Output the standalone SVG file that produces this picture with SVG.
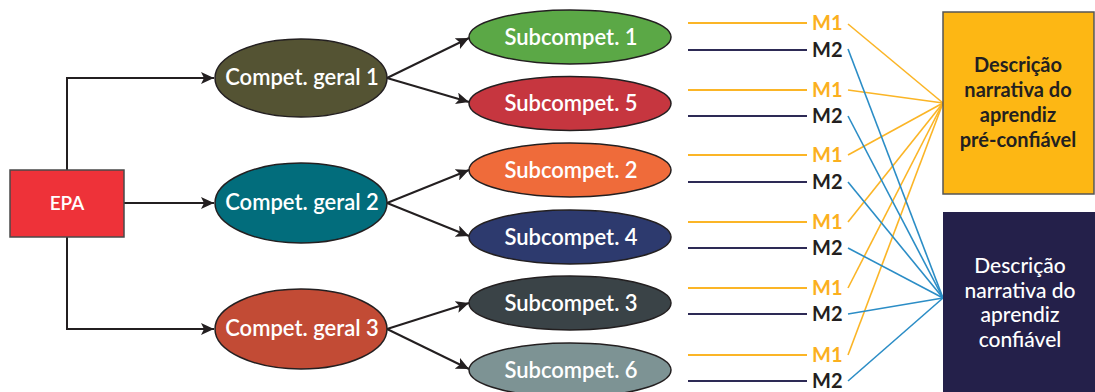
<svg xmlns="http://www.w3.org/2000/svg" width="1095" height="392" viewBox="0 0 1095 392">
<defs>
<marker id="arr" markerUnits="userSpaceOnUse" markerWidth="14" markerHeight="12" refX="13" refY="6" orient="auto">
<path d="M0,0 L13,6 L0,12 L3,6 Z" fill="#231F20"/>
</marker>
<style>
.lbl{font-family:Lato,"Liberation Sans",sans-serif;fill:#ffffff;text-anchor:middle;font-weight:600}
.node ellipse{stroke:#231F20;stroke-width:1.5}
.conn{stroke:#231F20;stroke-width:2;fill:none}
.y{stroke:#FBB526;stroke-width:2}
.n{stroke:#2D2A55;stroke-width:2}
.b{stroke:#2B8DC6;stroke-width:1.6}
.yc{stroke:#FBB526;stroke-width:1.6}
.m1{font-family:Lato,"Liberation Sans",sans-serif;font-weight:700;font-size:20px;fill:#FBB01E}
.m2{font-family:Lato,"Liberation Sans",sans-serif;font-weight:700;font-size:20px;fill:#231F20}
.box{font-family:Lato,"Liberation Sans",sans-serif;text-anchor:middle}
</style>
</defs>
<rect width="1095" height="392" fill="#ffffff"/>

<g id="connectors">
<path class="conn" d="M67,170 V78 H214" marker-end="url(#arr)"/>
<path class="conn" d="M124,203 H214" marker-end="url(#arr)"/>
<path class="conn" d="M67,237 V329 H214" marker-end="url(#arr)"/>
<path class="conn" d="M387,78 L469,38" marker-end="url(#arr)"/>
<path class="conn" d="M387,78 L469,102" marker-end="url(#arr)"/>
<path class="conn" d="M387,203 L469,170" marker-end="url(#arr)"/>
<path class="conn" d="M387,203 L469,236" marker-end="url(#arr)"/>
<path class="conn" d="M387,329 L469,303" marker-end="url(#arr)"/>
<path class="conn" d="M387,329 L469,369" marker-end="url(#arr)"/>
<g>
<line class="y" x1="688" y1="23" x2="807" y2="23"/>
<line class="n" x1="688" y1="50" x2="807" y2="50"/>
<line class="y" x1="688" y1="90" x2="807" y2="90"/>
<line class="n" x1="688" y1="116" x2="807" y2="116"/>
<line class="y" x1="688" y1="155" x2="807" y2="155"/>
<line class="n" x1="688" y1="182" x2="807" y2="182"/>
<line class="y" x1="688" y1="222" x2="807" y2="222"/>
<line class="n" x1="688" y1="248" x2="807" y2="248"/>
<line class="y" x1="688" y1="288" x2="807" y2="288"/>
<line class="n" x1="688" y1="314" x2="807" y2="314"/>
<line class="y" x1="688" y1="355" x2="807" y2="355"/>
<line class="n" x1="688" y1="381" x2="807" y2="381"/>
</g>
<g>
<line class="yc" x1="848" y1="24" x2="943" y2="103"/>
<line class="yc" x1="848" y1="90" x2="943" y2="103"/>
<line class="yc" x1="848" y1="155" x2="943" y2="103"/>
<line class="yc" x1="848" y1="222" x2="943" y2="103"/>
<line class="yc" x1="848" y1="288" x2="943" y2="103"/>
<line class="yc" x1="848" y1="355" x2="943" y2="103"/>
<line class="b" x1="848" y1="49" x2="943" y2="298"/>
<line class="b" x1="848" y1="116" x2="943" y2="298"/>
<line class="b" x1="848" y1="182" x2="943" y2="298"/>
<line class="b" x1="848" y1="248" x2="943" y2="298"/>
<line class="b" x1="848" y1="314" x2="943" y2="298"/>
<line class="b" x1="848" y1="381" x2="943" y2="298"/>
</g>
</g>

<g id="epa" class="node">
<rect x="10" y="170" width="114" height="67" fill="#EE3239" stroke="#4A4A4A" stroke-width="1.5"/>
<text class="lbl" x="67" y="210" font-size="19">EPA</text>
</g>

<g id="cg1" class="node">
<ellipse cx="301" cy="78" rx="86" ry="39" fill="#545333"/>
<text class="lbl" x="302" y="85" font-size="22">Compet. geral 1</text>
</g>
<g id="cg2" class="node">
<ellipse cx="301" cy="203" rx="86" ry="40" fill="#026D7C"/>
<text class="lbl" x="302" y="210" font-size="22">Compet. geral 2</text>
</g>
<g id="cg3" class="node">
<ellipse cx="301" cy="329" rx="86" ry="40" fill="#C24B35"/>
<text class="lbl" x="302" y="336" font-size="22">Compet. geral 3</text>
</g>

<g id="sc1" class="node">
<ellipse cx="570" cy="37" rx="101" ry="27" fill="#5BA846"/>
<text class="lbl" x="571" y="44.5" font-size="22">Subcompet. 1</text>
</g>
<g id="sc5" class="node">
<ellipse cx="570" cy="103.5" rx="101" ry="27" fill="#C6363F"/>
<text class="lbl" x="571" y="111" font-size="22">Subcompet. 5</text>
</g>
<g id="sc2" class="node">
<ellipse cx="570" cy="170" rx="101" ry="27" fill="#EF6B3A"/>
<text class="lbl" x="571" y="177.5" font-size="22">Subcompet. 2</text>
</g>
<g id="sc4" class="node">
<ellipse cx="570" cy="237" rx="101" ry="27" fill="#2D3A6E"/>
<text class="lbl" x="571" y="244.5" font-size="22">Subcompet. 4</text>
</g>
<g id="sc3" class="node">
<ellipse cx="570" cy="303" rx="101" ry="27" fill="#3A4347"/>
<text class="lbl" x="571" y="310.5" font-size="22">Subcompet. 3</text>
</g>
<g id="sc6" class="node">
<ellipse cx="570" cy="370" rx="101" ry="27" fill="#7D9394"/>
<text class="lbl" x="571" y="377.5" font-size="22">Subcompet. 6</text>
</g>

<g id="marks">
<text class="m1" x="812" y="30">M1</text>
<text class="m2" x="812" y="57">M2</text>
<text class="m1" x="812" y="97">M1</text>
<text class="m2" x="812" y="123">M2</text>
<text class="m1" x="812" y="162">M1</text>
<text class="m2" x="812" y="189">M2</text>
<text class="m1" x="812" y="229">M1</text>
<text class="m2" x="812" y="255">M2</text>
<text class="m1" x="812" y="295">M1</text>
<text class="m2" x="812" y="321">M2</text>
<text class="m1" x="812" y="362">M1</text>
<text class="m2" x="812" y="388">M2</text>
</g>

<g id="pre">
<rect x="943" y="12" width="151" height="182" fill="#FDB714" stroke="#555555" stroke-width="1.5"/>
<text class="box" x="1018" y="72" font-size="20" fill="#231F20" font-weight="700"><tspan x="1018">Descrição</tspan><tspan x="1018" dy="25">narrativa do</tspan><tspan x="1018" dy="25">aprendiz</tspan><tspan x="1018" dy="25">pré-confiável</tspan></text>
</g>
<g id="conf">
<rect x="943" y="212" width="152" height="190" fill="#24204A"/>
<text class="box" x="1020" y="273" font-size="21" fill="#ffffff" font-weight="500"><tspan x="1020">Descrição</tspan><tspan x="1020" dy="24.5">narrativa do</tspan><tspan x="1020" dy="24.5">aprendiz</tspan><tspan x="1020" dy="24.5">confiável</tspan></text>
</g>
</svg>
